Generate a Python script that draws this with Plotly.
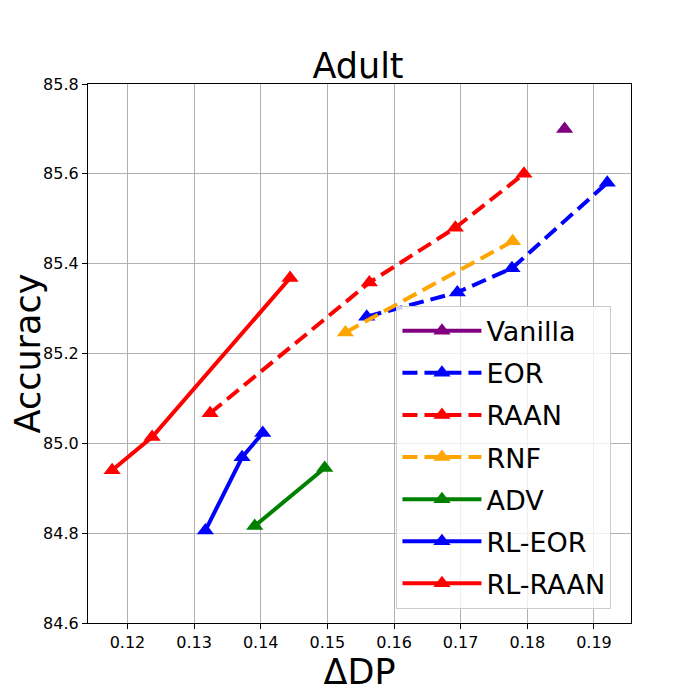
import plotly.graph_objects as go

# ---- data ----
vanilla_x = [0.1856]
vanilla_y = [85.70]

eor_x = [0.1559, 0.1695, 0.1777, 0.1920]
eor_y = [85.282, 85.336, 85.390, 85.580]

raan_x = [0.1324, 0.1563, 0.1692, 0.1795]
raan_y = [85.067, 85.358, 85.480, 85.600]

rnf_x = [0.1527, 0.1778]
rnf_y = [85.247, 85.450]

adv_x = [0.1391, 0.1496]
adv_y = [84.816, 84.945]

rl_eor_x = [0.1317, 0.1372, 0.1403]
rl_eor_y = [84.806, 84.969, 85.023]

rl_raan_x = [0.1177, 0.1237, 0.1444]
rl_raan_y = [84.940, 85.014, 85.368]

x_ticks = [0.12, 0.13, 0.14, 0.15, 0.16, 0.17, 0.18, 0.19]
y_ticks = [84.6, 84.8, 85.0, 85.2, 85.4, 85.6, 85.8]

series = [
    ("Vanilla", vanilla_x, vanilla_y, "purple", "solid"),
    ("EOR", eor_x, eor_y, "blue", "15px,7px"),
    ("RAAN", raan_x, raan_y, "red", "15px,7px"),
    ("RNF", rnf_x, rnf_y, "orange", "15px,7px"),
    ("ADV", adv_x, adv_y, "green", "solid"),
    ("RL-EOR", rl_eor_x, rl_eor_y, "blue", "solid"),
    ("RL-RAAN", rl_raan_x, rl_raan_y, "red", "solid"),
]

FONT = "DejaVu Sans, Liberation Sans, sans-serif"

fig = go.Figure()
for name, xs, ys, color, dash in series:
    fig.add_trace(go.Scatter(
        x=xs, y=ys, name=name, mode="lines+markers", legendgroup=name,
        line=dict(color=color, width=4, dash=dash),
        marker=dict(symbol="triangle-up", size=15, color=color),
    ))

axis_common = dict(
    showgrid=True, gridcolor="#b0b0b0", gridwidth=1,
    showline=True, linecolor="black", linewidth=1.2, mirror=True,
    ticks="outside", ticklen=5, tickwidth=1.1, tickcolor="black",
    tickfont=dict(family=FONT, size=16, color="black"),
    zeroline=False, automargin=False,
)

fig.update_layout(
    width=700, height=700,
    margin=dict(l=80, r=77, t=76, b=85),
    paper_bgcolor="white", plot_bgcolor="white",
    font=dict(family=FONT, color="black"),
    title=dict(text="Adult", x=0.5, xanchor="center", y=0.918, yanchor="middle",
               font=dict(family=FONT, size=35, color="black")),
    xaxis=dict(range=[0.11408, 0.19556], tickvals=x_ticks,
               ticktext=[f"{v:.2f}" for v in x_ticks],
               title=dict(text="ΔDP", font=dict(family=FONT, size=35), standoff=6),
               **axis_common),
    yaxis=dict(range=[84.6, 85.8], tickvals=y_ticks,
               ticktext=[f"{v:.1f}" for v in y_ticks],
               title=dict(text="Accuracy", font=dict(family=FONT, size=35), standoff=8),
               **axis_common),
    legend=dict(x=0.964, y=0.0265, xanchor="right", yanchor="bottom",
                bgcolor="rgba(255,255,255,0.8)", bordercolor="#cccccc", borderwidth=1,
                font=dict(family=FONT, size=27, color="black"),
                tracegroupgap=4, itemwidth=79),
    showlegend=True,
)

fig.write_html("out.html")
